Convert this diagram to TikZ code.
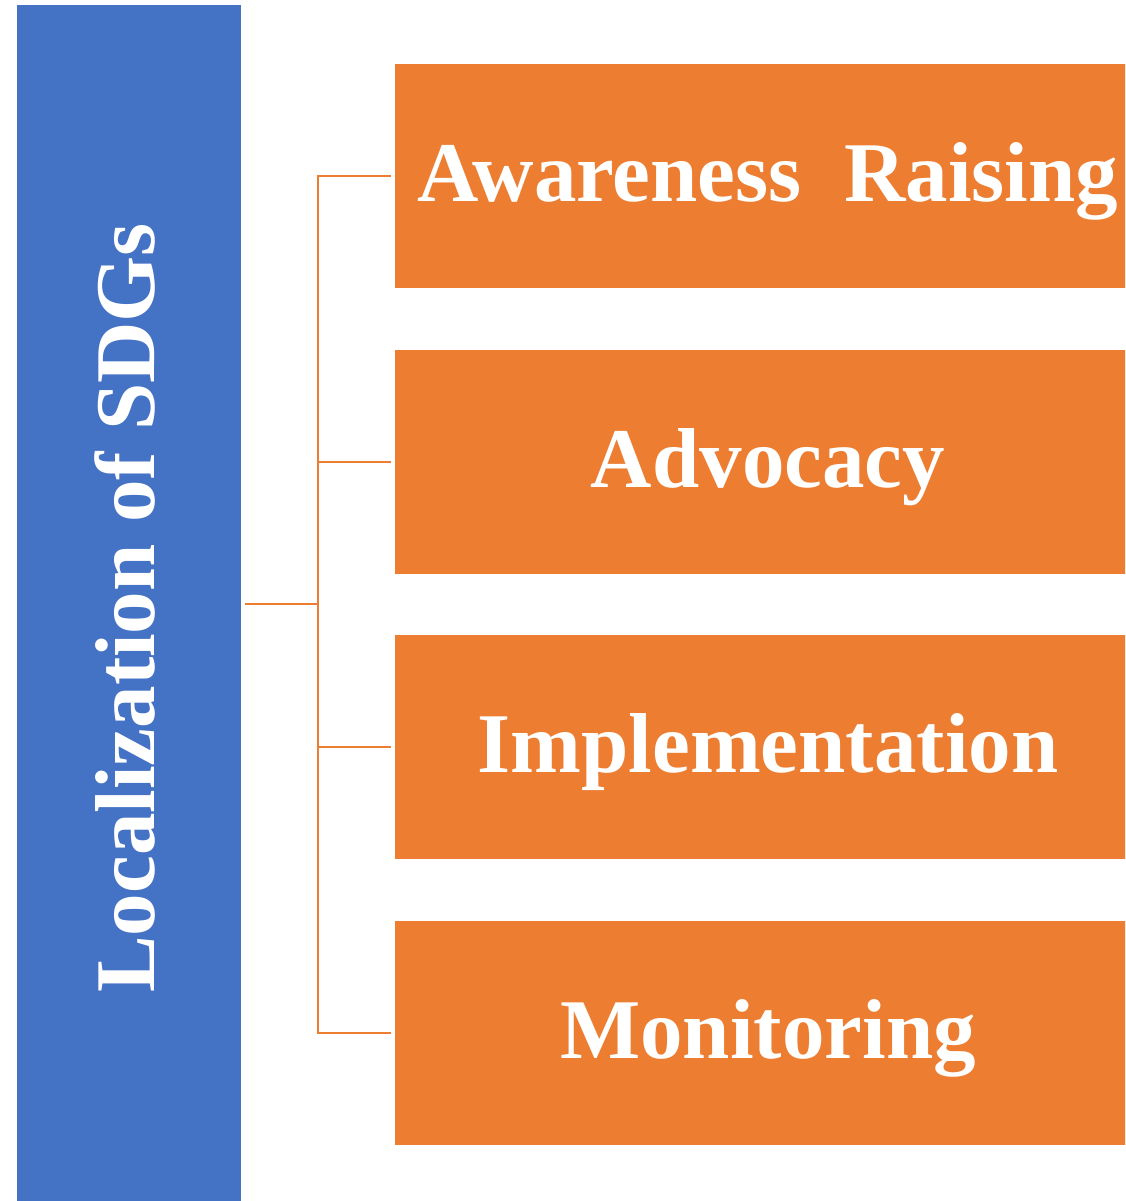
\documentclass[tikz,border=0pt]{standalone}
\usepackage{fontspec}
\setmainfont{Liberation Serif}
\usetikzlibrary{positioning}
\definecolor{sdgblue}{RGB}{68,114,196}
\definecolor{sdgorange}{RGB}{237,125,49}

\begin{document}
\begin{tikzpicture}[x=1pt, y=-1pt,
    bigfont/.style={font=\fontsize{85}{100}\selectfont\bfseries, text=white},
    sdgbox/.style={bigfont, fill=sdgblue, draw=none, inner sep=0pt,
        minimum width=1206pt, minimum height=224pt, text height=51pt, text depth=0pt},
    stepbox/.style={bigfont, fill=sdgorange, draw=none, inner sep=0pt,
        minimum width=746pt, minimum height=224pt, text height=51pt, text depth=0pt},
    link/.style={draw=sdgorange, line width=2.5pt}]

    % 1 unit = 1 px of the reference (y downwards)
    \useasboundingbox (0,0) rectangle (1125,1201);
    \clip (0,0) rectangle (1125,1201);

    % =========================================================================
    % BLUE COLUMN
    % =========================================================================
    \node[sdgbox, rotate=90] (sdg) at (129,608) {Localization of SDGs};

    % =========================================================================
    % ORANGE STEPS
    % =========================================================================
    \foreach \y/\nom/\txt in {176/raising/Awareness~~Raising, 462/advocacy/Advocacy,
                              747/implem/Implementation, 1033/monitor/Monitoring} {
        \node[stepbox] (\nom) at (768,\y) {\txt};
    }

    % =========================================================================
    % CONNECTORS
    % =========================================================================
    \coordinate (fork) at (318,604);
    \draw[link] ([xshift=4pt]sdg.south |- fork) -- (fork);
    \foreach \nom in {raising, advocacy, implem, monitor} {
        \draw[link] (fork) |- ([xshift=-4pt]\nom.west);
    }

\end{tikzpicture}
\end{document}
